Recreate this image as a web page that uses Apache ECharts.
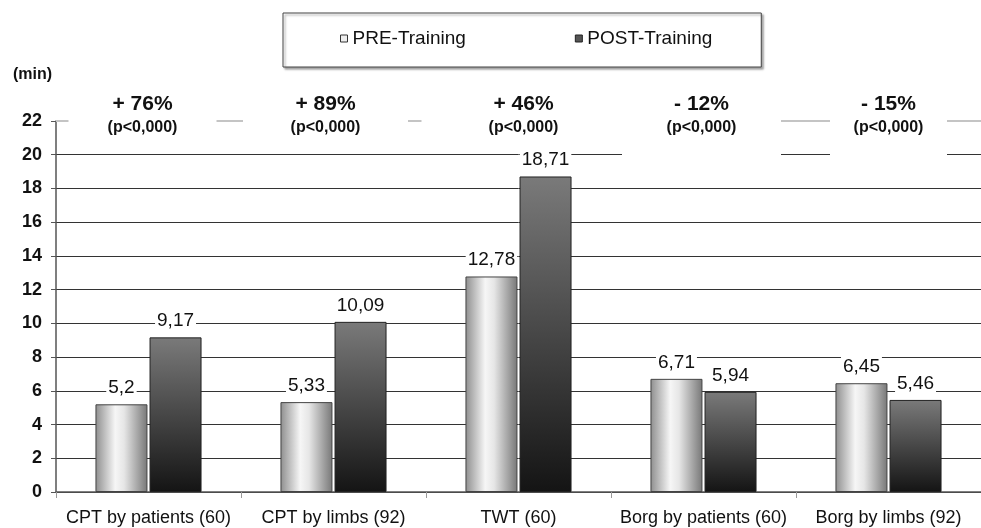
<!DOCTYPE html>
<html><head><meta charset="utf-8">
<script src="https://cdn.jsdelivr.net/npm/echarts@6/dist/echarts.min.js"></script>
<style>html,body{margin:0;padding:0;background:#fff}#c{width:981px;height:528px}</style>
</head><body><div id="c"></div>
<script>
// ---- data ----
const categories = ['CPT by patients (60)', 'CPT by limbs (92)', 'TWT (60)', 'Borg by patients (60)', 'Borg by limbs (92)'];
const seriesNames = ['PRE-Training', 'POST-Training'];
const preTraining = [5.2, 5.33, 12.78, 6.71, 6.45];
const postTraining = [9.17, 10.09, 18.71, 5.94, 5.46];
const changeLabels = ['+ 76%', '+ 89%', '+ 46%', '- 12%', '- 15%'];
const pLabels = ['(p<0,000)', '(p<0,000)', '(p<0,000)', '(p<0,000)', '(p<0,000)'];
const yMin = 0, yMax = 22, yStep = 2;
const yUnit = '(min)';

// ---- styles ----
const FONT = '"Liberation Sans", Arial, sans-serif';
const comma = v => String(v).replace('.', ',');
const boxW = [148, 165, 204, 159, 117];
const boxDx = [-6, -8, 5, -2, 0];
const boxPadB = [0, 0, 0, 20, 20];

const chart = echarts.init(document.getElementById('c'), null, { renderer: 'canvas' });

const nLines = Math.round((yMax - yMin) / yStep) + 1;
const splitColors = [];
for (let i = 0; i < nLines; i++) splitColors.push(i === nLines - 1 ? 'rgba(0,0,0,0)' : '#333');

const valueLabel = {
  show: true, position: 'top', distance: 6,
  formatter: p => comma(p.value),
  fontFamily: FONT, fontSize: 19, color: '#111',
  backgroundColor: '#fff', padding: [1, 2, 1, 2]
};

chart.setOption({
  animation: false,
  backgroundColor: '#fff',
  textStyle: { fontFamily: FONT },
  grid: { left: 56, top: 121, width: 931, bottom: 36, containLabel: false },
  legend: {
    left: 283, top: 13, orient: 'horizontal',
    padding: [16, 49, 19, 57], itemGap: 109, itemWidth: 7, itemHeight: 7,
    borderColor: '#444', borderWidth: 1, backgroundColor: '#fff',
    shadowColor: 'rgba(0,0,0,0.35)', shadowBlur: 2, shadowOffsetX: 2, shadowOffsetY: 2,
    selectedMode: false,
    textStyle: { fontFamily: FONT, fontSize: 19, color: '#111' },
    data: [
      { name: seriesNames[0], icon: 'rect', itemStyle: { color: '#eee', borderColor: '#333', borderWidth: 1 } },
      { name: seriesNames[1], icon: 'rect', itemStyle: { color: '#555', borderColor: '#222', borderWidth: 1 } }
    ]
  },
  graphic: [{
    type: 'text', left: 13, top: 67,
    style: { text: yUnit, fontFamily: FONT, fontSize: 16, fontWeight: 'bold', fill: '#111' }
  }],
  xAxis: [{
    type: 'category', data: categories,
    axisLine: { show: true, lineStyle: { color: '#555', width: 1.5 } },
    axisTick: { show: true, length: 6, lineStyle: { color: '#999' } },
    axisLabel: { interval: 0, margin: 17, fontFamily: FONT, fontSize: 18, color: '#111' },
    splitLine: { show: false }
  }],
  yAxis: [{
    type: 'value', min: yMin, max: yMax, interval: yStep,
    axisLine: { show: true, lineStyle: { color: '#555', width: 1.5 } },
    axisTick: { show: true, length: 5, lineStyle: { color: '#555' } },
    axisLabel: { margin: 14, fontFamily: FONT, fontSize: 18, fontWeight: 'bold', color: '#111' },
    splitLine: { show: true, lineStyle: { color: splitColors, width: 1 } }
  }],
  series: [
    {
      name: seriesNames[0], type: 'bar', data: preTraining, barWidth: 52, barGap: '4%',
      itemStyle: {
        color: new echarts.graphic.LinearGradient(0, 0, 1, 0, [
          { offset: 0, color: '#8e8e8e' }, { offset: 0.38, color: '#f6f6f6' },
          { offset: 0.55, color: '#e6e6e6' }, { offset: 1, color: '#777' }
        ]),
        borderColor: '#444', borderWidth: 1
      },
      label: valueLabel,
      markLine: {
        silent: true, symbol: 'none', label: { show: false },
        lineStyle: { color: '#c4c4c4', width: 2, type: 'solid' },
        data: [{ yAxis: yMax }]
      }
    },
    {
      name: seriesNames[1], type: 'bar', data: postTraining, barWidth: 52, barGap: '4%',
      itemStyle: {
        color: new echarts.graphic.LinearGradient(0, 0, 0, 1, [
          { offset: 0, color: '#7a7a7a' }, { offset: 1, color: '#141414' }
        ]),
        borderColor: '#222', borderWidth: 1
      },
      label: valueLabel
    },
    {
      name: 'annotations', type: 'scatter', z: 5, clip: false, silent: true, symbolSize: 0,
      itemStyle: { color: '#fff', opacity: 1 },
      data: categories.map((c, i) => ({
        value: [c, yMax],
        label: {
          width: boxW[i], padding: [0, 0, boxPadB[i], 0],
          offset: [boxDx[i], -5 + boxPadB[i] / 2]
        }
      })),
      label: {
        show: true, position: 'inside', align: 'center', backgroundColor: '#fff', opacity: 1,
        color: '#111', textBorderWidth: 0, textBorderColor: 'transparent',
        formatter: p => '{a|' + changeLabels[p.dataIndex] + '}\n{b|' + pLabels[p.dataIndex] + '}',
        rich: {
          a: { fontFamily: FONT, fontSize: 21, fontWeight: 'bold', lineHeight: 24, color: '#111', align: 'center', textBorderWidth: 0 },
          b: { fontFamily: FONT, fontSize: 16, fontWeight: 'bold', lineHeight: 24, color: '#111', align: 'center', textBorderWidth: 0 }
        }
      }
    }
  ]
});
</script>
</body></html>
